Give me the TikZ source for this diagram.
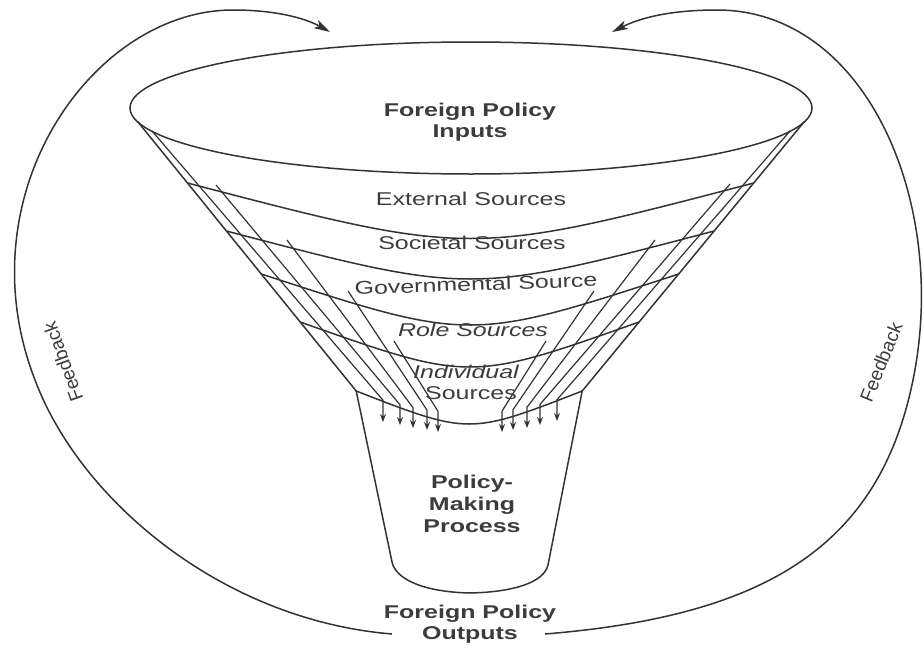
\documentclass[tikz,border=0pt]{standalone}
\usepackage{fontspec}
\setmainfont{Liberation Sans}
\newfontfamily\lab[FakeStretch=1.35]{Liberation Sans}
\usetikzlibrary{arrows.meta}
\definecolor{ink}{HTML}{333333}
\definecolor{txt}{HTML}{3C3C3C}
\tikzset{
  rim/.style={draw=ink, line width=1.5pt, line join=round, line cap=round},
  fbarc/.style={draw=ink, line width=1.5pt, -{Stealth[length=16pt,width=9pt,inset=4pt]}},
  inarrow/.style={draw=ink, line width=1.2pt, -{Stealth[length=8pt,width=6pt]}},
  lbl/.style={text=txt, font=\lab\fontsize{18.5}{21}\selectfont, inner sep=0pt, align=center},
  blbl/.style={lbl, font=\lab\bfseries\fontsize{18.5}{21.5}\selectfont},
  ilbl/.style={lbl, font=\lab\itshape\fontsize{18.5}{21}\selectfont},
  fblbl/.style={text=txt, font=\fontsize{19}{21}\selectfont, inner sep=0pt}
}
\begin{document}
\begin{tikzpicture}[x=1pt,y=-1pt]
\useasboundingbox (0,0) rectangle (924,656);
\fill[white] (0,0) rectangle (924,656);

% top rim of the funnel
\draw[rim] (471,108) ellipse [x radius=341, y radius=66];
% funnel sides
\draw[rim] (138,122) -- (356.2,391);
\draw[rim] (804,122) -- (582.2,391);
% band lines
\draw[rim] (187.5,183) .. controls (470.6,257) .. (753.7,183);
\draw[rim] (226.4,231) .. controls (470.3,295) .. (714.1,231);
\draw[rim] (261.3,274) .. controls (470,342) .. (678.7,274);
\draw[rim] (300.2,322) .. controls (469.7,382) .. (639.1,322);
\draw[rim] (356.2,391) .. controls (469.2,435) .. (582.2,391);
% policy-making cup
\draw[rim] (356.2,391) -- (392,562) .. controls (396,580) and (425,592) .. (470,593)
  .. controls (515,592) and (544,582) .. (548,565) -- (582.2,391);

% input arrows, left
\draw[inarrow] (152,131) -- (383,400.2) -- (383,422);
\draw[inarrow] (216,185) -- (400,404.8) -- (400,425);
\draw[inarrow] (287,240) -- (413,407.6) -- (413,428);
\draw[inarrow] (348,291) -- (427,410) -- (427,430);
\draw[inarrow] (394,341) -- (438,411.3) -- (438,432);
% input arrows, right
\draw[inarrow] (546,341) -- (502,411.1) -- (502,432);
\draw[inarrow] (594,291) -- (513,409.7) -- (513,430);
\draw[inarrow] (655,240) -- (527,407.2) -- (527,428);
\draw[inarrow] (730,184) -- (540,404.4) -- (540,425);
\draw[inarrow] (790,131) -- (557,399.7) -- (557,421);

% labels
\node[blbl] (inputs) at (470,122) {Foreign Policy\\Inputs};
\node[lbl] (ext) at (471,199) {External Sources};
\node[lbl] (soc) at (472,243) {Societal Sources};
\node[lbl, rotate=2] (gov) at (476,284) {Governmental Source};
\node[ilbl] (role) at (473,330) {Role Sources};
\node[ilbl] (indiv) at (466,372) {Individual};
\node[lbl] (indiv2) at (471,393) {Sources};
\node[blbl, font=\lab\bfseries\fontsize{18.5}{22}\selectfont] (proc) at (472,504) {Policy-\\Making\\Process};
\node[blbl] (outputs) at (470,624) {Foreign Policy\\Outputs};

% feedback loops
\coordinate (outL) at (392,634);
\coordinate (inL) at (330,32);
\coordinate (outR) at (545,634);
\coordinate (inR) at (612,32);
\draw[fbarc] (outL) .. controls (222,620) and (80,500) .. (35,380)
  .. controls (-37,194) and (93,10) .. (233,10)
  .. controls (275,10) and (305,18) .. (inL);
\draw[fbarc] (outR) .. controls (765,616) and (879,547) .. (913,380)
  .. controls (949,204) and (867,10) .. (717,10)
  .. controls (670,10) and (640,18) .. (inR);

\node[fblbl, rotate=110] (fbL) at (63,362) {Feedback};
\node[fblbl, rotate=68] (fbR) at (881,362) {Feedback};
\end{tikzpicture}
\end{document}
